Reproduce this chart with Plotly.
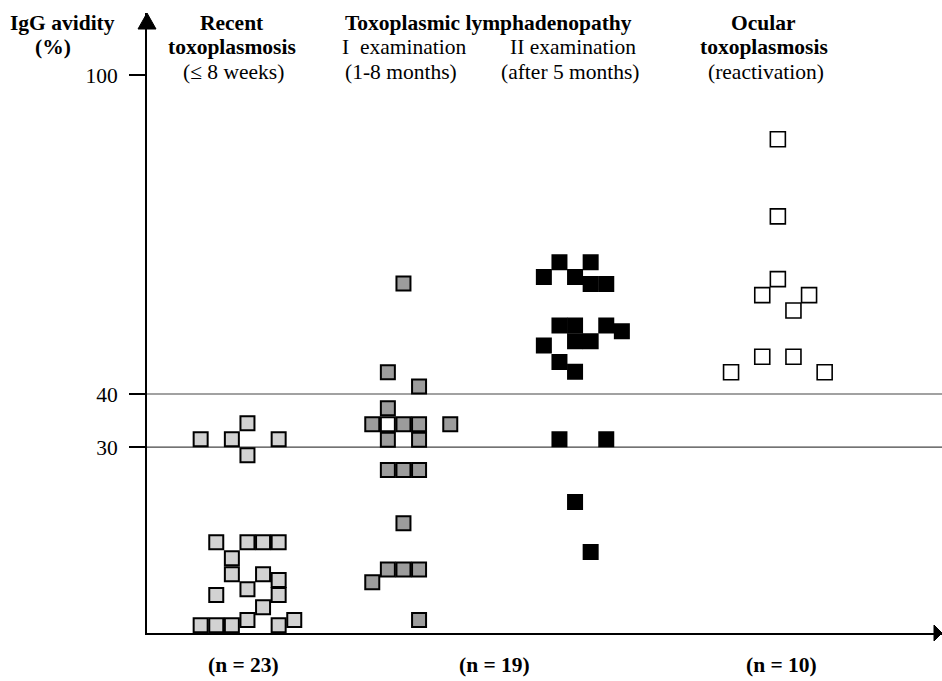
import plotly.graph_objects as go

# ---------------- data (slot index along x, IgG avidity % along y) ----------------
recent_x = [3, 5, 6, 6, 8, 4, 6, 7, 8, 5, 5, 7, 8, 6, 4, 8, 7, 6, 9, 3, 4, 5, 8]
recent_y = [31.5, 31.5, 34.5, 28.5, 31.5, 12.1, 12.1, 12.1, 12.1, 9.1, 6.1, 6.1, 5.0, 3.3,
            2.2, 2.2, -0.1, -2.5, -2.5, -3.5, -3.5, -3.5, -3.5]

lymph1_x = [16, 15, 17, 15, 14, 16, 17, 19, 15, 17, 15, 16, 17, 16, 15, 16, 17, 14, 17]
lymph1_y = [60.8, 44.1, 41.4, 37.3, 34.3, 34.3, 34.3, 34.3, 31.4, 31.4, 25.7, 25.7, 25.7,
            15.7, 7.0, 7.0, 7.0, 4.6, -2.5]
lymph1_open_x = [15]
lymph1_open_y = [34.3]

lymph2_x = [26, 28, 25, 27, 28, 29, 26, 27, 29, 30, 27, 28, 25, 26, 27, 26, 29, 27, 28]
lymph2_y = [64.8, 64.8, 62.0, 62.0, 60.7, 60.7, 52.9, 52.9, 52.9, 51.8, 49.9, 49.9, 49.1,
            46.0, 44.2, 31.5, 31.5, 19.7, 10.3]

ocular_x = [40, 40, 40, 39, 42, 41, 39, 41, 37, 43]
ocular_y = [87.9, 73.4, 61.6, 58.6, 58.6, 55.7, 47.0, 47.0, 44.1, 44.1]

tick_vals = [30, 40, 100]
tick_text = ["30", "40", "100"]
cutoff_lines = [30, 40]

n_labels = ["(n = 23)", "(n = 19)", "(n = 10)"]

# ---------------- figure ----------------
W, H = 942, 681
L, R, T, B = 147, 0, 13, 48
SERIF = "Liberation Serif"
FS = 21.5

fig = go.Figure()


def add_squares(xs, ys, fill, lw, size, name):
    fig.add_trace(go.Scatter(
        x=xs, y=ys, mode="markers", name=name, showlegend=False,
        marker=dict(symbol="square", size=size, color=fill,
                    line=dict(color="black", width=lw)),
        cliponaxis=False, hoverinfo="skip"))


add_squares(recent_x, recent_y, "#d2d2d2", 2, 14, "recent")
add_squares(lymph1_x, lymph1_y, "#9c9c9c", 2, 14, "lymph I")
add_squares(lymph1_open_x, lymph1_open_y, "white", 2, 14, "lymph I open")
add_squares(lymph2_x, lymph2_y, "black", 2, 14, "lymph II")
add_squares(ocular_x, ocular_y, "white", 1.6, 15, "ocular")

plot_h = H - T - B


def py(ypx):
    return (H - B - ypx) / plot_h


def px(xpx):
    return (xpx - L) / (W - L - R)


shapes = []
for v in cutoff_lines:
    shapes.append(dict(type="line", xref="paper", x0=0, x1=1, yref="y", y0=v, y1=v,
                       line=dict(color="#444444", width=1.2), layer="below"))
# axis arrows
shapes.append(dict(type="path", xref="paper", xsizemode="pixel", xanchor=0,
                   yref="paper", ysizemode="pixel", yanchor=1,
                   path="M -9,-16 L 9,-16 L 0,0 Z", fillcolor="black",
                   line=dict(color="black", width=1)))
shapes.append(dict(type="path", xref="paper", xsizemode="pixel", xanchor=1,
                   yref="paper", ysizemode="pixel", yanchor=0,
                   path="M -8,8 L -8,-8 L 0,0 Z", fillcolor="black",
                   line=dict(color="black", width=1)))

annotations = []


def txt(s, xc, yc, bold=False):
    annotations.append(dict(
        text=("<b>%s</b>" % s) if bold else s, xref="paper", yref="paper",
        x=px(xc), y=py(yc), xanchor="center", yanchor="middle", showarrow=False,
        font=dict(family=SERIF, size=FS, color="black")))


txt("IgG avidity", 62, 23, True)
txt("(%)", 53, 47, True)
txt("Recent", 232, 23, True)
txt("toxoplasmosis", 232, 47, True)
txt("(≤ 8 weeks)", 233, 72)
txt("Toxoplasmic lymphadenopathy", 488, 23, True)
txt("I  examination", 404, 47)
txt("(1-8 months)", 401, 72)
txt("II examination", 573, 47)
txt("(after 5 months)", 570, 72)
txt("Ocular", 763, 23, True)
txt("toxoplasmosis", 764, 47, True)
txt("(reactivation)", 766, 72)
for lab, xc in zip(n_labels, [243, 494, 781]):
    txt(lab, xc, 665, True)

slot_px = 15.6
x_lo = -0.44
x_hi = x_lo + (W - L - R) / slot_px
px_per_unit = 5.317
y_lo = -4.95
y_hi = y_lo + plot_h / px_per_unit

fig.update_layout(
    width=W, height=H, margin=dict(l=L, r=R, t=T, b=B, pad=0),
    paper_bgcolor="white", plot_bgcolor="white",
    shapes=shapes, annotations=annotations,
    xaxis=dict(range=[x_lo, x_hi], showgrid=False, zeroline=False, showticklabels=False,
               ticks="", showline=True, linecolor="black", linewidth=2, fixedrange=True),
    yaxis=dict(range=[y_lo, y_hi], showgrid=False, zeroline=False,
               tickmode="array", tickvals=tick_vals, ticktext=tick_text,
               ticks="outside", ticklen=16, tickwidth=2, tickcolor="black",
               ticklabelstandoff=7,
               tickfont=dict(family=SERIF, size=FS, color="black"),
               showline=True, linecolor="black", linewidth=2, fixedrange=True),
    showlegend=False,
)

fig.write_html("out.html", config={"displayModeBar": False},
               post_script="document.body.style.margin='0';document.body.style.padding='0';")
